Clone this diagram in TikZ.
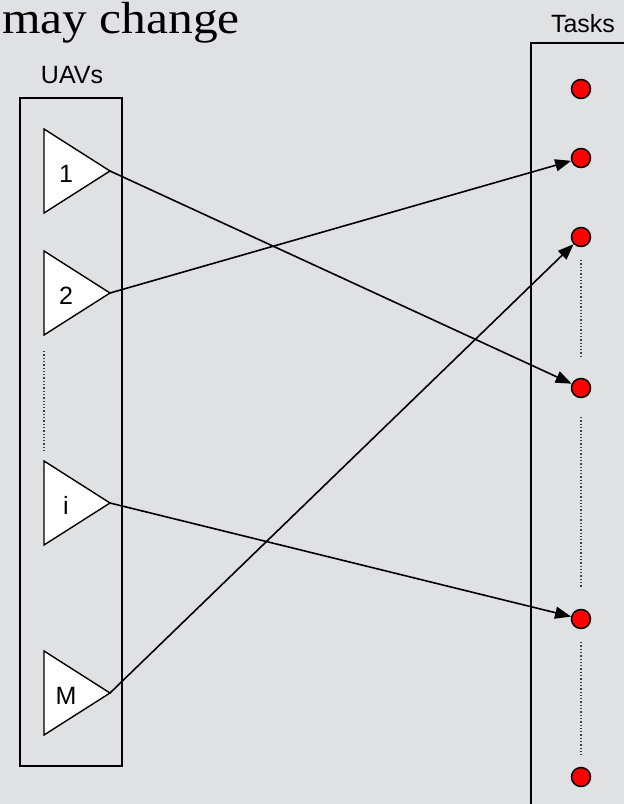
\documentclass[tikz,border=0pt]{standalone}
\usepackage{fontspec}
\setmainfont{Liberation Sans}
\newfontfamily\titlefont{Liberation Serif}
\usetikzlibrary{arrows.meta}
\definecolor{bgcol}{RGB}{224,225,226}
\begin{document}
\begin{tikzpicture}[x=1pt,y=-1pt,
  uav/.style={draw=black,fill=white,line width=1.4pt,line join=miter},
  lbl/.style={anchor=base,inner sep=0pt,font=\fontsize{25}{29}\selectfont},
  task/.style={circle,draw=black,fill=red,line width=1.5pt,minimum size=19pt,inner sep=0pt},
  frame/.style={draw=black,line width=1.5pt},
  conn/.style={line width=1.6pt,-{Triangle[length=16pt,width=12pt]}},
  dots/.style={line width=1.3pt,dotted,gray!50!black}]
\useasboundingbox (0,0) rectangle (624,804);
\fill[bgcol] (0,0) rectangle (624,804);
\clip (0,0) rectangle (624,804);
% title fragment
\node[anchor=base east,inner sep=0pt,xscale=1.1,font=\titlefont\fontsize{45}{50}\selectfont] (title) at (240,33) {may change};
% UAV box
\node[lbl] (uavlbl) at (72,83) {UAVs};
\draw[frame] (20,98) rectangle (122,766);
% triangles
\foreach \n/\y/\t in {1/171/1, 2/293/2, i/503/i, M/693/M}{
  \draw[uav] (44,\y-42) -- (110,\y) -- (44,\y+42) -- cycle;
  \coordinate (a\n) at (110,\y);
  \node[lbl] (t\n) at (66,\y+11) {\t};
}
\draw[dots] (44,351) -- (44,452);
% Tasks box
\node[lbl] (tasklbl) at (583,32) {Tasks};
\draw[frame] (640,43) -- (531,43) -- (531,820);
\node[task] (c1) at (581,89) {};
\node[task] (c2) at (581,158) {};
\node[task] (c3) at (581,237) {};
\node[task] (c4) at (581,388) {};
\node[task] (c5) at (581,619) {};
\node[task] (c6) at (581,777) {};
\draw[dots] (581,260) -- (581,358);
\draw[dots] (581,417) -- (581,588);
\draw[dots] (581,642) -- (581,755);
% assignments
\draw[conn] (a1) -- (c4);
\draw[conn] (a2) -- (c2);
\draw[conn] (ai) -- (c5);
\draw[conn] (aM) -- (c3);
\end{tikzpicture}
\end{document}
